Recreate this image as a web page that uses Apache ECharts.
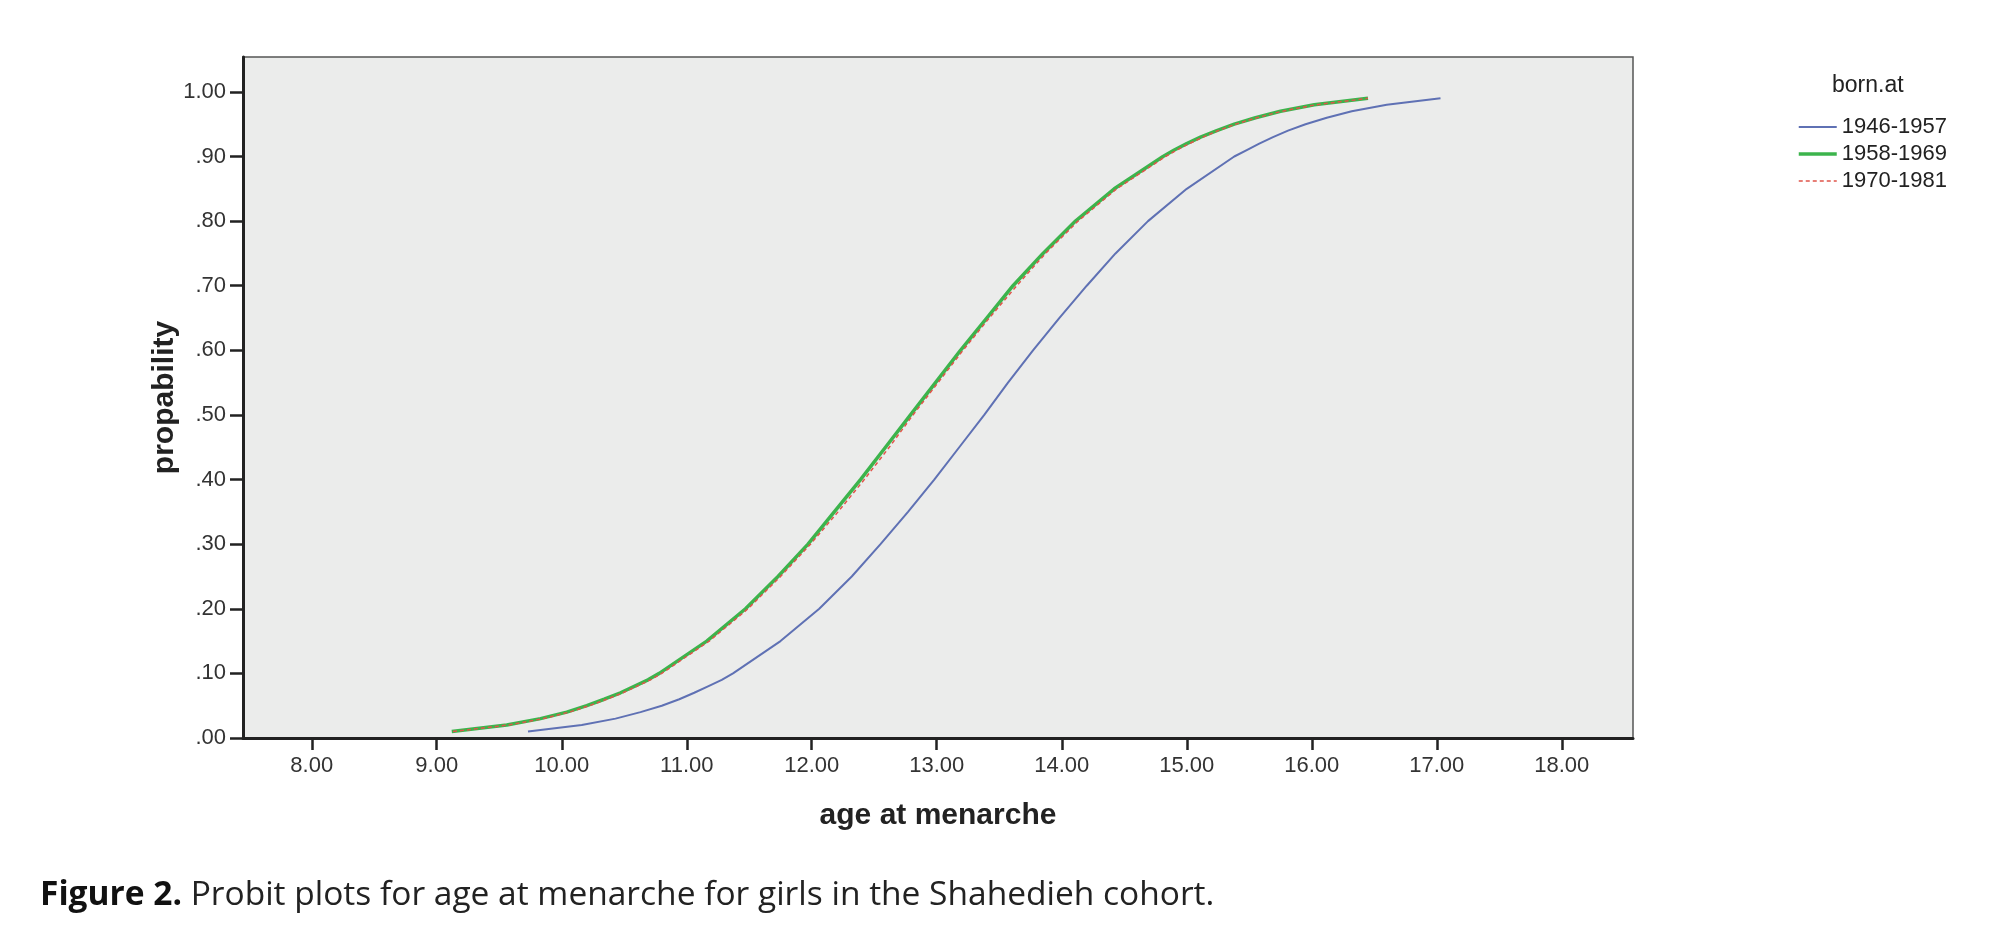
<!DOCTYPE html>
<html>
<head>
<meta charset="utf-8">
<title>Probit plots for age at menarche</title>
<script src="https://cdn.jsdelivr.net/npm/echarts@6/dist/echarts.min.js"></script>
<style>
  html, body { margin: 0; padding: 0; background: #fff; }
  #main { width: 2000px; height: 952px; }
</style>
</head>
<body>
<div id="main"></div>
<script>
// probabilities at which the probit curves are drawn
var probs = [0.01, 0.02, 0.03, 0.04, 0.05, 0.06, 0.07, 0.08, 0.09, 0.10,
             0.15, 0.20, 0.25, 0.30, 0.35, 0.40, 0.45, 0.50, 0.55, 0.60,
             0.65, 0.70, 0.75, 0.80, 0.85, 0.90, 0.91, 0.92, 0.93, 0.94,
             0.95, 0.96, 0.97, 0.98, 0.99];

// age at menarche for each probability
var age1946 = [9.73, 10.16, 10.43, 10.63, 10.80, 10.94, 11.06, 11.17, 11.28, 11.37,
               11.75, 12.06, 12.32, 12.55, 12.77, 12.98, 13.18, 13.38, 13.57, 13.77,
               13.98, 14.20, 14.43, 14.69, 15.00, 15.38, 15.48, 15.58, 15.69, 15.81,
               15.95, 16.12, 16.32, 16.60, 17.03];
var age1958 = [9.12, 9.56, 9.83, 10.04, 10.20, 10.34, 10.47, 10.58, 10.69, 10.78,
               11.16, 11.47, 11.73, 11.97, 12.18, 12.39, 12.59, 12.79, 12.99, 13.19,
               13.40, 13.61, 13.85, 14.11, 14.42, 14.81, 14.90, 15.00, 15.11, 15.24,
               15.38, 15.55, 15.75, 16.02, 16.45];
var age1970 = [9.13, 9.57, 9.85, 10.06, 10.22, 10.36, 10.49, 10.60, 10.71, 10.80,
               11.18, 11.49, 11.75, 11.99, 12.21, 12.42, 12.62, 12.81, 13.01, 13.21,
               13.42, 13.64, 13.87, 14.13, 14.44, 14.83, 14.92, 15.02, 15.13, 15.25,
               15.39, 15.56, 15.76, 16.03, 16.45];

var cohorts = ['1946-1957', '1958-1969', '1970-1981'];
var xTicks = [8, 9, 10, 11, 12, 13, 14, 15, 16, 17, 18];
var yTicks = [0, 0.1, 0.2, 0.3, 0.4, 0.5, 0.6, 0.7, 0.8, 0.9, 1.0];

function pairs(ages) {
    var out = [];
    for (var i = 0; i < ages.length; i++) {
        out.push([ages[i], probs[i]]);
    }
    return out;
}

var font = "'Liberation Sans', Arial, sans-serif";
var capFont = "'Open Sans', Lato, sans-serif";
var myChart = echarts.init(document.getElementById('main'), null, {renderer: 'canvas'});

myChart.setOption({
    animation: false,
    backgroundColor: '#ffffff',
    title: [
        {
            text: 'born.at',
            left: 1832,
            top: 74,
            padding: 0,
            textStyle: {fontFamily: font, fontSize: 23, fontWeight: 'normal', color: '#222'}
        },
        {
            // figure caption
            text: '{b|Figure 2.} Probit plots for age at menarche for girls in the Shahedieh cohort.',
            left: 40,
            top: 878,
            padding: 0,
            textStyle: {
                fontFamily: capFont,
                fontSize: 33.5,
                fontWeight: 'normal',
                color: '#222',
                rich: {
                    b: {fontFamily: capFont, fontSize: 33.5, fontWeight: 'bold', color: '#111'}
                }
            }
        }
    ],
    legend: {
        data: [
            {name: cohorts[0], lineStyle: {width: 2}},
            {name: cohorts[1], lineStyle: {width: 3.5}},
            {name: cohorts[2], lineStyle: {width: 1.5}}
        ],
        orient: 'vertical',
        left: 1797,
        top: 116,
        padding: 0,
        itemWidth: 38,
        itemHeight: 14,
        itemGap: 5,
        itemStyle: {opacity: 0},
        textStyle: {fontFamily: font, fontSize: 22, color: '#222'}
    },
    grid: {
        left: 243,
        right: 367,
        top: 57,
        bottom: 214,
        show: true,
        backgroundColor: '#ebeceb',
        borderColor: '#555',
        borderWidth: 1.5
    },
    xAxis: {
        type: 'value',
        min: 7.45,
        max: 18.57,
        name: 'age at menarche',
        nameLocation: 'middle',
        nameGap: 63,
        nameTextStyle: {fontFamily: font, fontSize: 30, fontWeight: 'bold', color: '#222'},
        axisLine: {show: true, lineStyle: {color: '#222', width: 3}},
        axisTick: {show: true, customValues: xTicks, length: 12, lineStyle: {color: '#222', width: 2.5}},
        axisLabel: {
            customValues: xTicks,
            margin: 17,
            fontFamily: font,
            fontSize: 22,
            color: '#333',
            formatter: function (v) { return v.toFixed(2); }
        },
        splitLine: {show: false}
    },
    yAxis: {
        type: 'value',
        min: 0,
        max: 1.054,
        name: 'propability',
        nameLocation: 'middle',
        nameGap: 63,
        nameMoveOverlap: false,
        nameTextStyle: {fontFamily: font, fontSize: 30, fontWeight: 'bold', color: '#222'},
        axisLine: {show: true, lineStyle: {color: '#222', width: 3}},
        axisTick: {show: true, customValues: yTicks, length: 13, lineStyle: {color: '#222', width: 2.5}},
        axisLabel: {
            customValues: yTicks,
            margin: 17,
            fontFamily: font,
            fontSize: 22,
            color: '#333',
            formatter: function (v) {
                return v.toFixed(2).replace(/^0/, '');
            }
        },
        splitLine: {show: false}
    },
    series: [
        {
            name: cohorts[0],
            type: 'line',
            data: pairs(age1946),
            showSymbol: false,
            symbol: 'none',
            lineStyle: {color: '#5f71b4', width: 2},
            itemStyle: {color: '#5f71b4'}
        },
        {
            name: cohorts[1],
            type: 'line',
            data: pairs(age1958),
            showSymbol: false,
            symbol: 'none',
            lineStyle: {color: '#3cb44c', width: 3.5},
            itemStyle: {color: '#3cb44c'}
        },
        {
            name: cohorts[2],
            type: 'line',
            data: pairs(age1970),
            showSymbol: false,
            symbol: 'none',
            lineStyle: {color: '#e0544a', width: 1.5, type: [4, 3]},
            itemStyle: {color: '#e0544a'}
        }
    ]
});
</script>
</body>
</html>
